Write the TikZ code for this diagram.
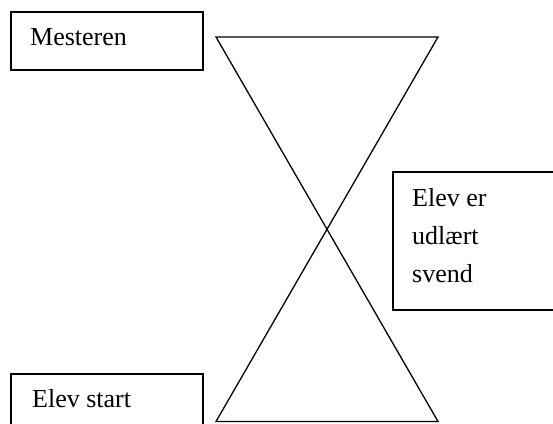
\documentclass[tikz,border=0pt]{standalone}
\usepackage{fontspec}
\setmainfont{Liberation Serif}
\tikzset{
  box/.style={draw=black, line width=1.6pt, anchor=north west, inner sep=0pt},
  lbl/.style={anchor=base west, inner sep=0pt, font=\fontsize{26}{37.5}\selectfont, align=left},
  glass/.style={draw=black, line width=1.3pt, line join=miter}
}
\begin{document}
\begin{tikzpicture}[x=1pt,y=1pt]
  \useasboundingbox (0,0) rectangle (553,423);
  \clip (0,0) rectangle (553,423);
  % text boxes
  \node[box, minimum width=192, minimum height=58] (mester) at (10,412) {};
  \node[lbl] (mestertxt) at (30,377) {Mesteren};
  \node[box, minimum width=180, minimum height=138] (svend) at (392,252) {};
  % the base anchor of a multi-line node sits on its last line
  \node[lbl] (svendtxt) at (412,141) {Elev er\\udlært\\svend};
  \node[box, minimum width=192, minimum height=80] (start) at (10,50) {};
  \node[lbl] (starttxt) at (32,16) {Elev start};
  % hourglass
  \coordinate (tl) at (216,386);
  \coordinate (tr) at (438,386);
  \coordinate (bl) at (216,1.5);
  \coordinate (br) at (438,1.5);
  \draw[glass] (tl) -- (tr) -- (bl) -- (br) -- cycle;
\end{tikzpicture}
\end{document}
